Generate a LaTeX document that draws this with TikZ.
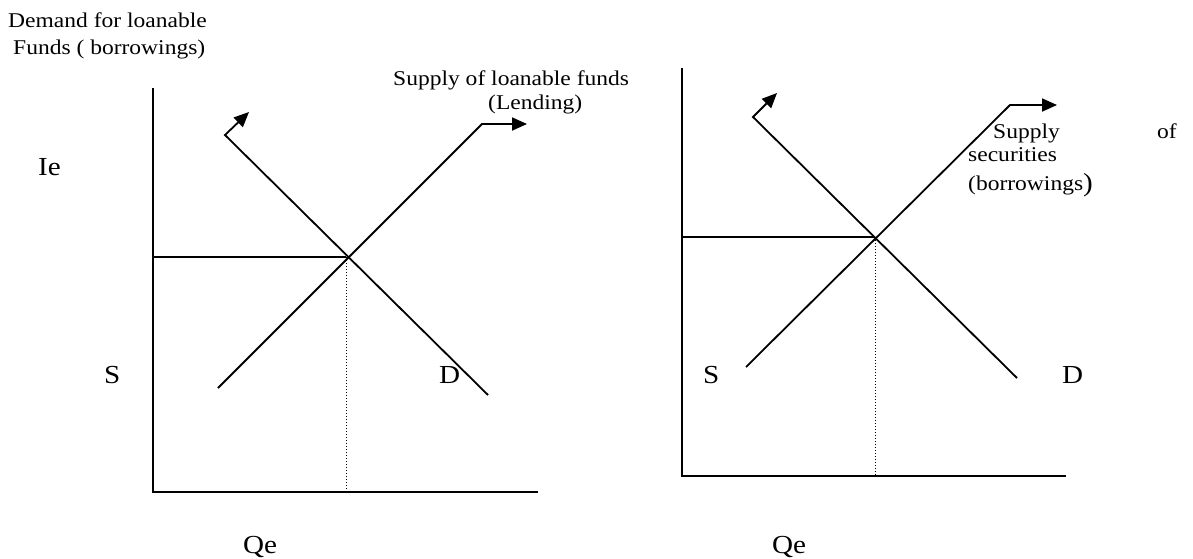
\documentclass[tikz,border=0pt]{standalone}
\usepackage{fontspec}
\setmainfont{Liberation Serif}[FakeStretch=1.12]
\usetikzlibrary{arrows.meta}
\tikzset{
  axisline/.style={line width=1.8pt},
  curveline/.style={line width=1.8pt},
  guide/.style={line width=1.8pt},
  dotline/.style={dotted,line width=1pt},
  arrowed/.style={-{Triangle[length=15pt,width=13pt]}},
  smalltxt/.style={inner sep=0pt,anchor=base west,font=\fontsize{21}{27}\selectfont},
  bigtxt/.style={inner sep=0pt,anchor=base west,font=\fontsize{26}{30}\selectfont}
}
\begin{document}
\begin{tikzpicture}[x=1pt,y=-1pt]
\useasboundingbox (0,0) rectangle (1193,558);
% ---------- left chart ----------
\coordinate (Ltop) at (153,88);
\coordinate (Lo) at (153,492);
\coordinate (Lxend) at (538,492);
\coordinate (LE) at (346,257);
\coordinate (LEy) at (153,257);
\coordinate (LEx) at (346,492);
\coordinate (LS0) at (218,388);
\coordinate (LS1) at (482,124);
\coordinate (LS2) at (527,124);
\coordinate (LD0) at (488,395);
\coordinate (LD1) at (225,135);
\coordinate (LD2) at (249,112);
\draw[axisline] (Ltop) -- (Lo) -- (Lxend);
\draw[guide] (LEy) -- (LE);
\draw[dotline] (LE) -- (LEx);
\draw[curveline,arrowed] (LS0) -- (LS1) -- (LS2);
\draw[curveline,arrowed] (LD0) -- (LD1) -- (LD2);
\node[smalltxt] (t1) at (8,27) {Demand for loanable};
\node[smalltxt] (t2) at (13,54) {Funds ( borrowings)};
\node[smalltxt] (t3) at (393,85) {Supply of loanable funds};
\node[smalltxt] (t4) at (488,109) {(Lending)};
\node[bigtxt] (Ie) at (38,175) {Ie};
\node[bigtxt] (LSl) at (104,383) {S};
\node[bigtxt] (LDl) at (439,383) {D};
\node[bigtxt] (LQe) at (243,553) {Qe};
% ---------- right chart ----------
\coordinate (Rtop) at (682,68);
\coordinate (Ro) at (682,476);
\coordinate (Rxend) at (1066,476);
\coordinate (RE) at (875,237);
\coordinate (REy) at (682,237);
\coordinate (REx) at (875,476);
\coordinate (RS0) at (746,367);
\coordinate (RS1) at (1010,105);
\coordinate (RS2) at (1057,105);
\coordinate (RD0) at (1017,378);
\coordinate (RD1) at (753,117);
\coordinate (RD2) at (777,93);
\draw[axisline] (Rtop) -- (Ro) -- (Rxend);
\draw[guide] (REy) -- (RE);
\draw[dotline] (RE) -- (REx);
\draw[curveline,arrowed] (RS0) -- (RS1) -- (RS2);
\draw[curveline,arrowed] (RD0) -- (RD1) -- (RD2);
\node[smalltxt] (r1) at (993,138) {Supply};
\node[smalltxt,anchor=base east] (r2) at (1177,138) {of};
\node[smalltxt] (r3) at (968,161) {securities};
\node[smalltxt] (r4) at (968,190) {(borrowings\raisebox{-1pt}{\fontsize{26}{30}\selectfont)}};
\node[bigtxt] (RSl) at (703,383) {S};
\node[bigtxt] (RDl) at (1062,383) {D};
\node[bigtxt] (RQe) at (772,553) {Qe};
\end{tikzpicture}
\end{document}
